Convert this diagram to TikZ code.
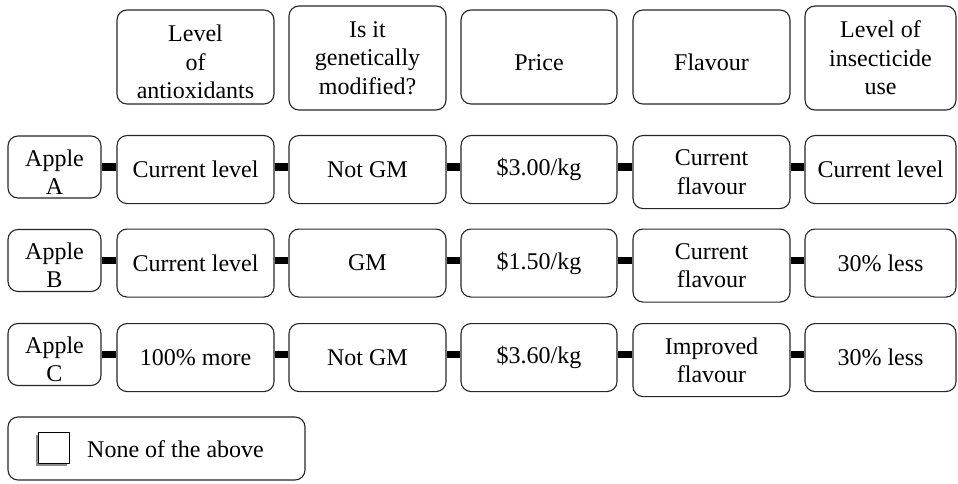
\documentclass[tikz,border=0pt]{standalone}
\usepackage{fontspec}
\setmainfont{Liberation Serif}
\usetikzlibrary{positioning, shadows}
\definecolor{edgegray}{HTML}{262626}
\definecolor{shadowgray}{HTML}{8C8C8C}
\newcommand{\lowstrut}{\rule{0pt}{26.5pt}}

\begin{document}
\begin{tikzpicture}[
  x=1pt, y=-1pt,
  every node/.style={font=\fontsize{24}{28.5}\selectfont, align=center},
  attr/.style={draw=edgegray, line width=1.1pt, rounded corners=10pt,
               minimum width=157pt, minimum height=94pt, inner sep=2pt},
  cell/.style={draw=edgegray, line width=1.1pt, rounded corners=10pt,
               minimum width=157pt, minimum height=68pt, inner sep=2pt, anchor=north},
  apple/.style={draw=edgegray, line width=1.1pt, rounded corners=10pt,
                minimum width=93pt, minimum height=62pt, inner sep=1pt},
  link/.style={line width=7.5pt, black},
  tickbox/.style={draw=black, line width=1pt, fill=white, minimum size=31pt, inner sep=0pt,
                  copy shadow={shadow xshift=-3pt, shadow yshift=-3pt, fill=shadowgray, draw=none}},
]
  \useasboundingbox (0,0) rectangle (958,484);

  % Attribute headers
  \node[attr] (hAox) at (195.5, 57) {\lowstrut Level\\of\\antioxidants};
  \node[attr, minimum height=104pt] (hGm) at (367.5, 58) {Is it\\genetically\\modified?};
  \node[attr, minimum width=156pt] (hPrice) at (539, 57) {\lowstrut Price};
  \node[attr] (hFlav) at (711.5, 57) {\lowstrut Flavour};
  \node[attr, minimum width=151pt, minimum height=104pt] (hIns) at (880.5, 58) {Level of\\insecticide\\use};

  % Apple A
  \node[apple] (appA) at (54.5, 167) {\lowstrut Apple\\A};
  \node[cell] (aoxA) at (195.5, 135) {Current level};
  \node[cell] (gmA) at (367.5, 135) {Not GM};
  \node[cell, minimum width=156pt] (priceA) at (539, 135) {\$3.00/kg};
  \node[cell, minimum height=73pt] (flavA) at (711.5, 135) {Current\\flavour};
  \node[cell, minimum width=151pt] (insA) at (880.5, 135) {Current level};

  % Apple B
  \node[apple] (appB) at (54.5, 260.5) {\lowstrut Apple\\B};
  \node[cell] (aoxB) at (195.5, 228.5) {Current level};
  \node[cell] (gmB) at (367.5, 228.5) {GM};
  \node[cell, minimum width=156pt] (priceB) at (539, 228.5) {\$1.50/kg};
  \node[cell, minimum height=73pt] (flavB) at (711.5, 228.5) {Current\\flavour};
  \node[cell, minimum width=151pt] (insB) at (880.5, 228.5) {30\% less};

  % Apple C
  \node[apple] (appC) at (54.5, 354.5) {\lowstrut Apple\\C};
  \node[cell] (aoxC) at (195.5, 323) {100\% more};
  \node[cell] (gmC) at (367.5, 323) {Not GM};
  \node[cell, minimum width=156pt] (priceC) at (539, 323) {\$3.60/kg};
  \node[cell, minimum height=73pt] (flavC) at (711.5, 323) {Improved\\flavour};
  \node[cell, minimum width=151pt] (insC) at (880.5, 323) {30\% less};

  % Links, row A
  \draw[link] (appA.east) -- (aoxA.west |- appA.east);
  \draw[link] (aoxA.east |- appA.east) -- (gmA.west |- appA.east);
  \draw[link] (gmA.east |- appA.east) -- (priceA.west |- appA.east);
  \draw[link] (priceA.east |- appA.east) -- (flavA.west |- appA.east);
  \draw[link] (flavA.east |- appA.east) -- (insA.west |- appA.east);

  % Links, row B
  \draw[link] (appB.east) -- (aoxB.west |- appB.east);
  \draw[link] (aoxB.east |- appB.east) -- (gmB.west |- appB.east);
  \draw[link] (gmB.east |- appB.east) -- (priceB.west |- appB.east);
  \draw[link] (priceB.east |- appB.east) -- (flavB.west |- appB.east);
  \draw[link] (flavB.east |- appB.east) -- (insB.west |- appB.east);

  % Links, row C
  \draw[link] (appC.east) -- (aoxC.west |- appC.east);
  \draw[link] (aoxC.east |- appC.east) -- (gmC.west |- appC.east);
  \draw[link] (gmC.east |- appC.east) -- (priceC.west |- appC.east);
  \draw[link] (priceC.east |- appC.east) -- (flavC.west |- appC.east);
  \draw[link] (flavC.east |- appC.east) -- (insC.west |- appC.east);

  % Opt-out
  \node[apple, minimum width=297pt, minimum height=63pt] (none) at (156.5, 448.5) {};
  \node[tickbox] (tick) at (54, 447.5) {};
  \node[anchor=west, inner sep=0pt] (noneText) at (87, 449) {None of the above};
\end{tikzpicture}
\end{document}
